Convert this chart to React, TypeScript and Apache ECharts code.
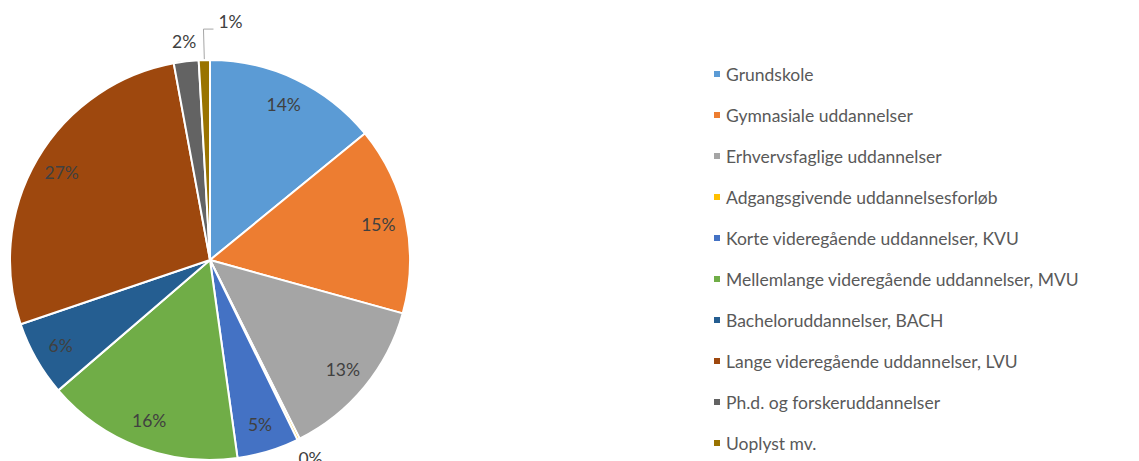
import React, { useEffect, useRef } from "react";
import * as echarts from "echarts";

const categories = [
  "Grundskole",
  "Gymnasiale uddannelser",
  "Erhvervsfaglige uddannelser",
  "Adgangsgivende uddannelsesforløb",
  "Korte videregående uddannelser, KVU",
  "Mellemlange videregående uddannelser, MVU",
  "Bacheloruddannelser, BACH",
  "Lange videregående uddannelser, LVU",
  "Ph.d. og forskeruddannelser",
  "Uoplyst mv.",
];
const shares = [14.1, 15.2, 13.3, 0.2, 5.0, 15.9, 6.1, 27.3, 2.0, 0.9];
const colors = [
  "#5B9BD5",
  "#ED7D31",
  "#A5A5A5",
  "#FFC000",
  "#4472C4",
  "#70AD47",
  "#255E91",
  "#9E480E",
  "#636363",
  "#997300",
];
const outsideIdx = [3, 8, 9];

export default function App() {
  const ref = useRef<HTMLDivElement>(null);
  useEffect(() => {
    document.body.style.margin = "0";
    const chart = echarts.init(ref.current!, null, { renderer: "svg" });
    const font = "Lato, 'Open Sans', sans-serif";
    const visualData = categories.map((name, i) => ({
      name,
      value: shares[i],
      itemStyle: { color: colors[i] },
    }));
    const labelData = categories.map((name, i) => {
      const outside = outsideIdx.includes(i);
      return {
        name,
        value: shares[i],
        label: { position: outside ? "outside" : "inside" },
        labelLine: {
          show: outside,
          length: 31,
          length2: 8,
          lineStyle: {
            color: i === 9 ? "#A6A6A6" : "rgba(0,0,0,0)",
            width: 1,
          },
        },
      };
    });
    chart.setOption({
      animation: false,
      textStyle: { fontFamily: font },
      legend: {
        orient: "vertical",
        left: 707,
        top: 59,
        height: 420,
        data: categories,
        icon: "rect",
        itemWidth: 8,
        itemHeight: 8,
        itemGap: 21,
        textStyle: {
          fontFamily: font,
          fontSize: 17.5,
          color: "#595959",
          lineHeight: 20,
        },
        selectedMode: false,
      },
      series: [
        {
          type: "pie",
          center: [210, 260],
          radius: [0, 200],
          startAngle: 90,
          clockwise: true,
          avoidLabelOverlap: false,
          data: visualData,
          label: { show: false },
          labelLine: { show: false },
          itemStyle: { borderColor: "#ffffff", borderWidth: 2 },
          emphasis: { disabled: true },
          silent: true,
        },
        {
          type: "pie",
          center: [210, 260],
          radius: [138, 200],
          startAngle: 90,
          clockwise: true,
          avoidLabelOverlap: false,
          silent: true,
          emphasis: { disabled: true },
          itemStyle: { color: "rgba(0,0,0,0)", borderWidth: 0 },
          data: labelData,
          label: {
            show: true,
            fontFamily: font,
            fontSize: 17.5,
            color: "#404040",
            formatter: (p: any) => Math.round(p.percent) + "%",
          },
          labelLayout: (params: any) => {
            const i = params.dataIndex;
            const pts = params.labelLinePoints;
            if (!pts) return {};
            if (i === 9) {
              const p0 = pts[0];
              const p1 = pts[1];
              const end = [p1[0] + 10, p1[1]];
              return {
                x: end[0] + 5,
                y: end[1] - 8,
                align: "left",
                verticalAlign: "middle",
                labelLinePoints: [p0, p1, end],
              };
            }
            if (i === 8) {
              return {
                x: pts[0][0] - 2,
                y: pts[0][1] - 20,
                align: "center",
                verticalAlign: "middle",
              };
            }
            if (i === 3) {
              return {
                x: pts[0][0] + 12,
                y: pts[0][1] + 19,
                align: "center",
                verticalAlign: "middle",
              };
            }
            return {};
          },
        },
      ],
    });
    return () => chart.dispose();
  }, []);
  return <div ref={ref} style={{ width: 1139, height: 461 }} />;
}
